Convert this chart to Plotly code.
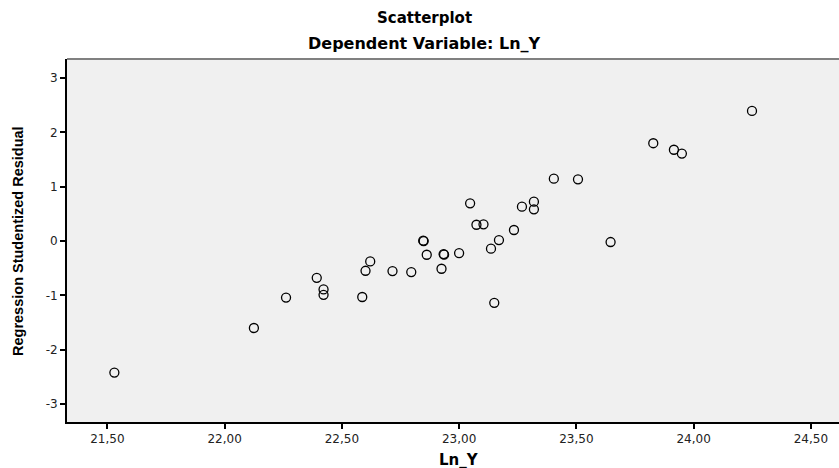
import plotly.graph_objects as go

ln_y = [21.53, 22.125, 22.262, 22.393, 22.422, 22.422, 22.587, 22.601, 22.621, 22.716,
        22.796, 22.847, 22.849, 22.862, 22.925, 22.934, 22.936, 23.0, 23.047, 23.074,
        23.104, 23.136, 23.15, 23.17, 23.234, 23.268, 23.319, 23.319, 23.404, 23.507,
        23.646, 23.828, 23.916, 23.95, 24.249]
stud_resid = [-2.42, -1.60, -1.04, -0.676, -0.89, -0.99, -1.03, -0.547, -0.375, -0.553,
              -0.571, 0.006, 0.0, -0.252, -0.51, -0.24, -0.25, -0.221, 0.694, 0.30,
              0.307, -0.141, -1.136, 0.018, 0.203, 0.632, 0.724, 0.584, 1.147, 1.136,
              -0.018, 1.80, 1.68, 1.61, 2.394]

x_ticks = [21.5, 22.0, 22.5, 23.0, 23.5, 24.0, 24.5]
x_tick_labels = ["21,50", "22,00", "22,50", "23,00", "23,50", "24,00", "24,50"]
y_ticks = [-3, -2, -1, 0, 1, 2, 3]
y_tick_labels = ["-3", "-2", "-1", "0", "1", "2", "3"]

title_main = "Scatterplot"
title_sub = "Dependent Variable: Ln_Y"
x_title = "Ln_Y"
y_title = "Regression Studentized Residual"

fig = go.Figure()
fig.add_trace(go.Scatter(
    x=ln_y, y=stud_resid, mode="markers",
    marker=dict(symbol="circle-open", size=9, color="black", line=dict(width=1.3, color="black")),
    showlegend=False, hoverinfo="skip"))

fig.update_layout(
    width=839, height=468,
    margin=dict(l=67, r=0, t=59, b=46),
    paper_bgcolor="white", plot_bgcolor="#f0f0f0",
    font=dict(family="Liberation Sans, Arial, sans-serif", color="black"),
    xaxis=dict(range=[21.328, 24.62], tickvals=x_ticks, ticktext=x_tick_labels,
               showgrid=False, zeroline=False, showline=True, linecolor="black", linewidth=2,
               ticks="outside", ticklen=5, tickwidth=1.5, tickcolor="black",
               tickfont=dict(size=12, family="DejaVu Sans, sans-serif", color="#222")),
    yaxis=dict(range=[-3.33, 3.35], tickvals=y_ticks, ticktext=y_tick_labels,
               showgrid=False, zeroline=False, showline=True, linecolor="black", linewidth=2,
               ticks="outside", ticklen=5, tickwidth=1.5, tickcolor="black",
               tickfont=dict(size=12, family="DejaVu Sans, sans-serif", color="#222")),
    shapes=[dict(type="line", xref="paper", yref="paper", x0=0, x1=1, y0=1, y1=1,
                 line=dict(color="#808080", width=2))],
    annotations=[
        dict(text="<b>%s</b>" % title_main, xref="paper", yref="paper", x=0.4637, y=1.113,
             xanchor="center", yanchor="middle", showarrow=False,
             font=dict(size=15, family="DejaVu Sans, sans-serif")),
        dict(text="<b>%s</b>" % title_sub, xref="paper", yref="paper", x=0.4637, y=1.044,
             xanchor="center", yanchor="middle", showarrow=False,
             font=dict(size=16, family="DejaVu Sans, sans-serif")),
        dict(text="<b>%s</b>" % x_title, xref="paper", yref="paper", x=0.508, y=-0.105,
             xanchor="center", yanchor="middle", showarrow=False,
             font=dict(size=15, family="DejaVu Sans, sans-serif")),
        dict(text="<b>%s</b>" % y_title, xref="paper", yref="paper", x=-0.0635, y=0.4986,
             xanchor="center", yanchor="middle", showarrow=False, textangle=-90,
             font=dict(size=14.5, family="Liberation Sans, Arial, sans-serif")),
    ],
)

fig.write_html("out.html")
